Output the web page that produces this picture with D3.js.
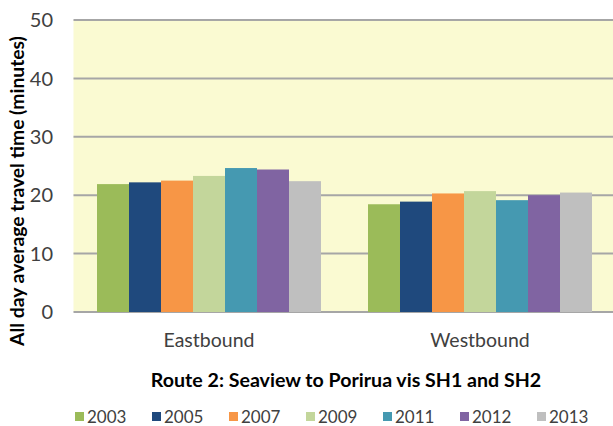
<!DOCTYPE html>
<html><head><meta charset="utf-8">
<script src="https://cdn.jsdelivr.net/npm/d3@7"></script>
<style>body{margin:0;background:#fff;}svg{display:block;}</style>
</head><body>
<svg id="c" width="613" height="426"></svg>
<script>
const categories = ["Eastbound", "Westbound"];
const years = ["2003", "2005", "2007", "2009", "2011", "2012", "2013"];
const eastbound = [21.9, 22.2, 22.5, 23.3, 24.65, 24.4, 22.4];
const westbound = [18.45, 18.9, 20.3, 20.7, 19.15, 20.0, 20.45];
const yTicks = [0, 10, 20, 30, 40, 50];
const colors = ["#9bbb59", "#1f497d", "#f79646", "#c3d69b", "#4599b1", "#8064a2", "#bfbfbf"];
const yTitle = "All day average travel time (minutes)";
const chartTitle = "Route 2: Seaview to Porirua vis SH1 and SH2";

const seriesByCat = {Eastbound: eastbound, Westbound: westbound};
const FONT = "Lato, 'Open Sans', sans-serif";
const svg = d3.select("#c");
const L = 73.5, R = 615.5, T = 20, B = 312;

const y = d3.scaleLinear().domain([0, 50]).range([B, T]);
const x0 = d3.scaleBand().domain(categories).range([L, R]);
const gap = 23.5;
const x1 = d3.scaleBand().domain(years).range([gap, x0.bandwidth() - gap]);

svg.append("rect").attr("x", L).attr("y", T).attr("width", R - L).attr("height", B - T).attr("fill", "#fafad2");

svg.append("g").selectAll("line").data(yTicks).join("line")
  .attr("x1", L).attr("x2", R).attr("y1", d => y(d)).attr("y2", d => y(d))
  .attr("stroke", "#a6a6a6").attr("stroke-width", 2);

const groups = svg.append("g").selectAll("g").data(categories).join("g")
  .attr("transform", d => `translate(${x0(d)},0)`);
groups.selectAll("rect").data(c => years.map((yr, i) => ({yr, v: seriesByCat[c][i], i}))).join("rect")
  .attr("x", d => x1(d.yr)).attr("width", x1.bandwidth())
  .attr("y", d => y(d.v)).attr("height", d => y(0) - y(d.v))
  .attr("fill", d => colors[d.i]);

// y tick labels
svg.append("g").selectAll("text").data(yTicks).join("text")
  .attr("x", 53).attr("y", d => y(d)).attr("dy", "0.36em")
  .attr("text-anchor", "end").attr("font-family", FONT).attr("font-size", 20)
  .attr("fill", "#404040").text(d => d);

// category labels
svg.append("g").selectAll("text").data(categories).join("text")
  .attr("x", d => x0(d) + x0.bandwidth() / 2).attr("y", 340).attr("dy", "0.36em")
  .attr("text-anchor", "middle").attr("font-family", FONT).attr("font-size", 19.5)
  .attr("fill", "#404040").text(d => d);

// y axis title
svg.append("text").attr("transform", "translate(17,191) rotate(-90)")
  .attr("dy", "0.36em").attr("text-anchor", "middle").attr("font-family", FONT)
  .attr("font-weight", "bold").attr("font-size", 19.3).attr("fill", "#000").text(yTitle);

// chart title
svg.append("text").attr("x", 346).attr("y", 380).attr("dy", "0.36em")
  .attr("text-anchor", "middle").attr("font-family", FONT).attr("font-weight", "bold")
  .attr("font-size", 19.6).attr("fill", "#000").text(chartTitle);

// legend
const lx = d3.scalePoint().domain(years).range([75, 537]);
const lg = svg.append("g").selectAll("g").data(years).join("g")
  .attr("transform", d => `translate(${lx(d)},417)`);
lg.append("rect").attr("x", 0).attr("y", -5).attr("width", 9).attr("height", 9)
  .attr("fill", (d, i) => colors[i]);
lg.append("text").attr("x", 12).attr("y", 0).attr("dy", "0.36em")
  .attr("font-family", FONT).attr("font-size", 17).attr("fill", "#404040").text(d => d);
</script>
</body></html>
